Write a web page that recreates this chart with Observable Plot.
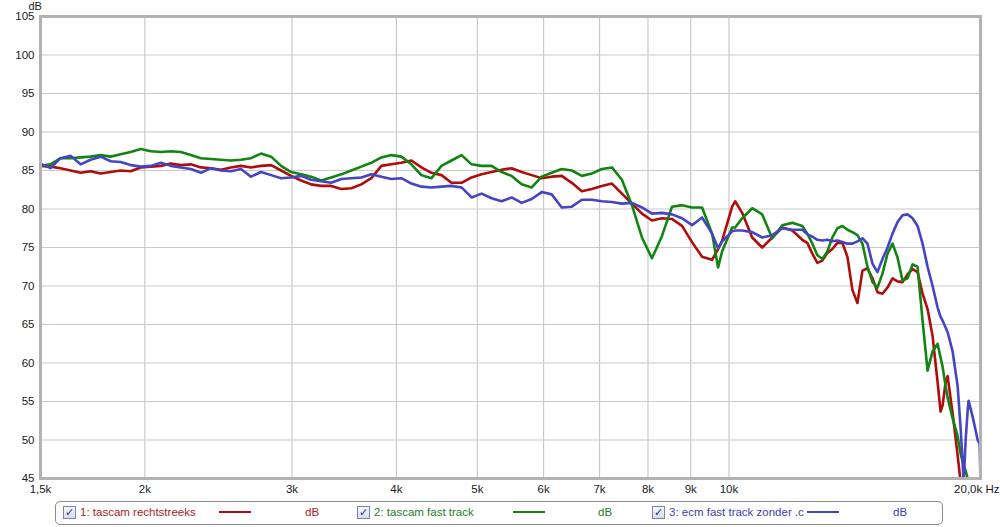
<!DOCTYPE html>
<html>
<head>
<meta charset="utf-8">
<script src="https://cdn.jsdelivr.net/npm/d3@7"></script>
<script src="https://cdn.jsdelivr.net/npm/@observablehq/plot@0.6"></script>
<style>
  html, body { margin: 0; padding: 0; background: #fff; }
  body { width: 1000px; height: 527px; overflow: hidden; font-family: "Liberation Sans", Arial, sans-serif; }
  #legend { position: relative; width: 1000px; height: 29px; }
  #legend .box { position: absolute; left: 55px; top: 3px; width: 886px; height: 22px; border: 1px solid #8c8c8c; border-radius: 5px; }
  #legend .item { position: absolute; top: 8px; font-size: 11.5px; line-height: 13px; white-space: nowrap; }
  #legend .cb { position: absolute; top: 8px; width: 11px; height: 11px; border: 1px solid #7686a6; background: linear-gradient(#f6f8fc, #d6dcea); font-size: 11px; line-height: 11px; text-align: center; color: #23327a; font-weight: bold; font-family: "DejaVu Sans", sans-serif; }
  #legend .ln { position: absolute; top: 13px; height: 2px; }
</style>
</head>
<body>
<div id="chart"></div>
<div id="legend"><div class="box"></div></div>
<script>
// Frequencies (Hz)
const freq = [1500,1542,1585,1630,1675,1722,1770,1820,1871,1923,1977,2033,2090,2148,2208,2270,2334,2399,2466,2535,2606,2679,2754,2832,2911,2992,3076,3162,3251,3342,3436,3532,3631,3732,3837,3944,4055,4168,4285,4405,4529,4655,4786,4920,5058,5199,5345,5494,5648,5807,5969,6136,6308,6485,6667,6853,7045,7243,7445,7654,7868,8088,8315,8548,8787,9033,9286,9546,9705,9814,10088,10172,10371,10661,10960,11267,11582,11907,12240,12410,12583,12758,12935,13115,13297,13482,13670,13860,14052,14247,14446,14647,14851,15057,15266,15479,15694,15912,16133,16357,16585,16815,17049,17286,17526,17770,17917,18017,18167,18267,18521,18779,18935,19040,19093,19198,19304,19357,19573,19845,19955,20000];

// 1: tascam rechtstreeks (dB)
const tascamRechtstreeks = [85.6,85.5,85.3,85.0,84.7,84.9,84.6,84.8,85.0,84.9,85.4,85.5,85.6,85.9,85.7,85.8,85.4,85.3,85.1,85.4,85.6,85.4,85.6,85.7,85.0,84.3,83.7,83.2,83.0,83.0,82.6,82.7,83.2,84.0,85.6,85.8,86.0,86.3,85.4,84.7,84.4,83.4,83.4,84.1,84.5,84.8,85.1,85.3,84.8,84.4,84.0,84.2,84.3,83.4,82.3,82.6,83.0,83.3,82.0,80.7,79.4,78.5,78.8,78.7,77.8,75.7,73.8,73.4,74.8,75.9,80.3,81.0,79.5,76.3,75.0,76.3,77.6,77.2,76.0,75.6,74.2,73.0,73.3,74.3,74.8,75.6,75.6,73.8,69.5,67.8,72.0,72.3,71.0,69.2,69.0,69.8,71.0,70.6,70.5,71.5,72.2,71.8,69.0,67.0,63.5,57.5,53.7,54.5,57.5,58.3,53.5,48.0,44.5,null,null,null,null,null,null,null,null,null];

// 2: tascam fast track (dB)
const tascamFastTrack = [85.6,85.8,86.6,86.6,86.7,86.8,87.0,86.8,87.1,87.4,87.8,87.5,87.4,87.5,87.4,87.0,86.6,86.5,86.4,86.3,86.4,86.6,87.2,86.8,85.6,84.8,84.5,84.2,83.7,84.1,84.5,85.0,85.5,86.0,86.7,87.0,86.8,85.8,84.4,84.0,85.6,86.3,87.0,85.8,85.6,85.6,84.8,84.3,83.2,82.8,84.2,84.7,85.2,85.0,84.3,84.6,85.2,85.4,83.8,80.5,76.3,73.6,76.5,80.3,80.5,80.2,80.2,76.8,72.4,74.5,77.6,77.6,78.8,80.1,79.3,76.2,77.9,78.2,77.8,76.8,75.5,74.0,73.5,74.5,76.3,77.5,77.8,77.3,77.0,76.6,75.5,72.5,70.5,69.8,71.6,74.2,75.5,73.7,70.7,71.0,72.8,72.5,65.5,59.0,61.5,62.5,60.7,59.5,57.0,55.5,52.8,50.5,48.2,47.2,46.8,46.0,45.0,44.5,null,null,null,null];

// 3: ecm fast track zonder .c (dB)
const ecmFastTrack = [85.9,85.3,86.6,86.9,85.8,86.4,86.8,86.2,86.1,85.7,85.5,85.6,86.0,85.6,85.4,85.2,84.7,85.3,85.0,84.9,85.2,84.2,84.8,84.4,84.0,84.1,84.3,83.8,83.6,83.4,83.9,84.0,84.1,84.5,84.2,83.9,84.0,83.3,82.9,82.8,82.9,83.0,82.8,81.5,82.0,81.4,81.0,81.5,80.8,81.3,82.2,81.9,80.2,80.3,81.2,81.2,81.0,80.9,80.7,80.8,80.2,79.4,79.5,79.3,78.8,77.9,78.9,76.8,74.9,75.8,77.1,77.2,77.2,77.0,76.3,76.6,77.5,77.3,77.3,76.7,76.4,76.0,75.9,76.0,75.8,75.9,75.7,75.5,75.5,75.8,76.2,75.5,72.9,71.8,73.5,75.0,76.8,78.3,79.2,79.3,78.8,77.8,75.5,72.5,70.0,67.2,66.0,65.5,64.6,64.0,61.5,57.0,51.5,47.0,44.5,50.0,53.8,55.1,53.0,50.0,49.5,44.5];

const seriesNames = ["1: tascam rechtstreeks", "2: tascam fast track", "3: ecm fast track zonder .c"];
const seriesUnits = ["dB", "dB", "dB"];
const lineColors = ["#b00c0c", "#128412", "#4444c4"];
const textColors = ["#a81c1c", "#1f7d1f", "#3d3db0"];

const xTicks = [1500, 2000, 3000, 4000, 5000, 6000, 7000, 8000, 9000, 10000];
const xTickLabels = ["1,5k", "2k", "3k", "4k", "5k", "6k", "7k", "8k", "9k", "10k"];
const xEndTick = [20000];
const xEndLabel = "20,0k Hz";
const xGrid = [2000, 3000, 4000, 5000, 6000, 7000, 8000, 9000, 10000];
const yTicks = [45, 50, 55, 60, 65, 70, 75, 80, 85, 90, 95, 100, 105];

const allSeries = [tascamRechtstreeks, tascamFastTrack, ecmFastTrack];
const rows = allSeries.map(arr => freq.map((f, i) => ({f, db: arr[i]})).filter(d => d.db != null));

const chart = Plot.plot({
  width: 1000,
  height: 498,
  marginLeft: 40,
  marginRight: 20,
  marginTop: 16,
  marginBottom: 20,
  style: {fontFamily: '"Liberation Sans", Arial, sans-serif', fontSize: "11.5px", color: "#1a1a1a", background: "#fff"},
  x: {type: "log", domain: [1500, 20000]},
  y: {domain: [45, 105]},
  marks: [
    Plot.gridX(xGrid, {stroke: "#c9c9c9", strokeOpacity: 1, strokeWidth: 1.2}),
    Plot.gridY(yTicks.slice(1, -1), {stroke: "#c9c9c9", strokeOpacity: 1, strokeWidth: 1.2}),
    ...rows.map((r, i) => Plot.line(r, {x: "f", y: "db", stroke: lineColors[i], strokeWidth: 2.6, clip: true})),
    Plot.frame({stroke: "#b2b2b2", strokeWidth: 3}),
    Plot.axisY(yTicks, {tickSize: 0, tickPadding: 6, label: null, fill: "#1a1a1a"}),
    Plot.axisX(xTicks, {tickSize: 0, tickPadding: 6, label: null, fill: "#1a1a1a",
      tickFormat: (d) => xTickLabels[xTicks.indexOf(d)]}),
    Plot.text(xEndTick, {x: d => d, frameAnchor: "bottom", lineAnchor: "top", dy: 6, dx: 19, textAnchor: "end",
      text: () => xEndLabel, fill: "#1a1a1a", fontSize: 11.5}),
    Plot.text(["dB"], {frameAnchor: "top-left", dx: -12, dy: -7, lineAnchor: "bottom", text: d => d, fill: "#1a1a1a", fontSize: 11})
  ]
});
document.getElementById("chart").appendChild(chart);

// Legend
const legend = document.getElementById("legend");
const layout = [
  {cb: 63, txt: 80, ln: 219, dB: 305},
  {cb: 357, txt: 374, ln: 513, dB: 598},
  {cb: 652, txt: 669, ln: 807, dB: 893}
];
seriesNames.forEach((name, i) => {
  const p = layout[i];
  const cb = document.createElement("div");
  cb.className = "cb"; cb.style.left = p.cb + "px"; cb.textContent = "\u2713";
  legend.appendChild(cb);
  const t = document.createElement("div");
  t.className = "item"; t.style.left = p.txt + "px"; t.style.color = textColors[i]; t.textContent = name;
  legend.appendChild(t);
  const l = document.createElement("div");
  l.className = "ln"; l.style.left = p.ln + "px"; l.style.width = "32px"; l.style.background = lineColors[i];
  legend.appendChild(l);
  const u = document.createElement("div");
  u.className = "item"; u.style.left = p.dB + "px"; u.style.color = textColors[i]; u.textContent = seriesUnits[i];
  legend.appendChild(u);
});
</script>
</body>
</html>
